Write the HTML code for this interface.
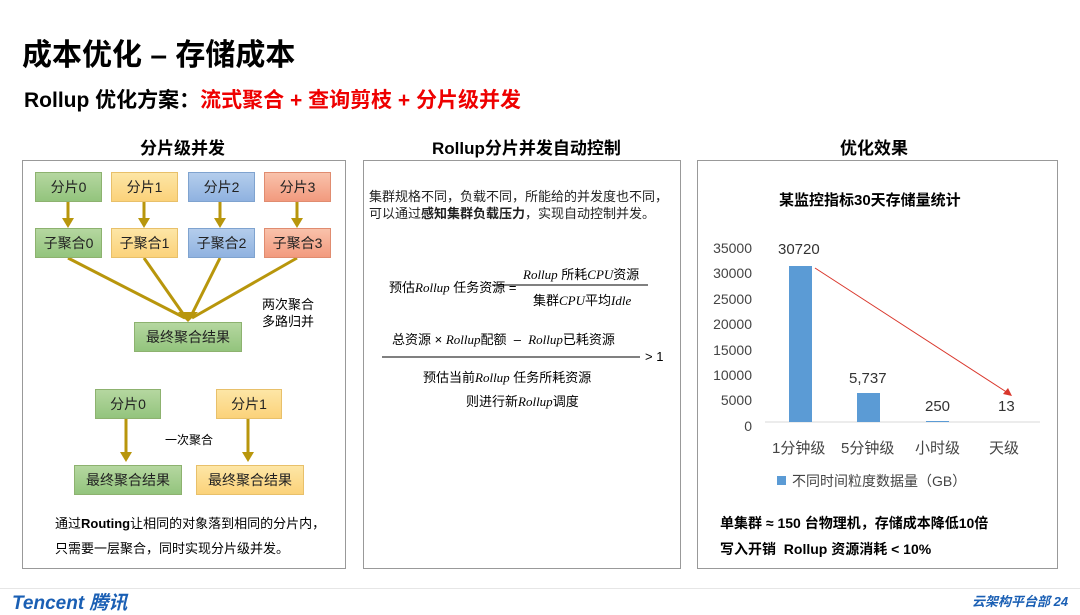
<!DOCTYPE html>
<html><head><meta charset="utf-8"><style>
*{margin:0;padding:0;box-sizing:border-box}
body{width:1080px;height:608px;background:#fff;position:relative;overflow:hidden;font-family:"Liberation Sans","Noto Sans CJK SC",sans-serif;color:#000}
.a{position:absolute;white-space:nowrap}
.panel{position:absolute;border:1px solid #999;background:#fff}
.bx{position:absolute;height:30px;border:1px solid;font-size:14px;text-align:center;line-height:28px;color:#222}
.g{background:linear-gradient(#b5d7a0,#93c47d);border-color:#8db26f}
.y{background:linear-gradient(#fde6a6,#fbd27a);border-color:#e8c06a}
.b{background:linear-gradient(#b4cdec,#8fb2e0);border-color:#7fa3cf}
.r{background:linear-gradient(#f9c2ab,#f29a7e);border-color:#e08c70}
.it{font-family:"Liberation Serif","Noto Serif CJK SC",serif;font-style:italic}
</style></head><body>
<div class="a" style="left:22px;top:30px;font-size:30px;font-weight:bold">成本优化 – 存储成本</div>
<div class="a" style="left:24px;top:84px;font-size:21px;font-weight:bold">Rollup 优化方案：<span style="color:#e00">流式聚合 + 查询剪枝 + 分片级并发</span></div>

<div class="a" style="left:140px;top:134px;font-size:17px;font-weight:bold">分片级并发</div>
<div class="a" style="left:432px;top:134px;font-size:17px;font-weight:bold">Rollup分片并发自动控制</div>
<div class="a" style="left:840px;top:134px;font-size:17px;font-weight:bold">优化效果</div>

<div class="panel" style="left:22px;top:160px;width:324px;height:409px"></div>
<div class="panel" style="left:363px;top:160px;width:318px;height:409px"></div>
<div class="panel" style="left:697px;top:160px;width:361px;height:409px"></div>

<svg class="a" style="left:0;top:0" width="1080" height="608">
<g stroke="#b8960c" stroke-width="3" fill="#b8960c">
<line x1="68" y1="200" x2="68" y2="222"/><polygon points="62,218 74,218 68,228" stroke="none"/>
<line x1="144" y1="200" x2="144" y2="222"/><polygon points="138,218 150,218 144,228" stroke="none"/>
<line x1="220" y1="200" x2="220" y2="222"/><polygon points="214,218 226,218 220,228" stroke="none"/>
<line x1="297" y1="200" x2="297" y2="222"/><polygon points="291,218 303,218 297,228" stroke="none"/>
<line x1="68" y1="258" x2="185" y2="318"/><line x1="144" y1="258" x2="186" y2="318"/>
<line x1="220" y1="258" x2="190" y2="318"/><line x1="297" y1="258" x2="192" y2="318"/>
<polygon points="178,312 198,312 188,322" stroke="none"/>
<line x1="126" y1="418" x2="126" y2="456"/><polygon points="120,452 132,452 126,462" stroke="none"/>
<line x1="248" y1="418" x2="248" y2="456"/><polygon points="242,452 254,452 248,462" stroke="none"/>
</g>
<line x1="382" y1="357" x2="640" y2="357" stroke="#000"/>
<line x1="492" y1="285" x2="648" y2="285" stroke="#000"/>
<!-- chart -->
<line x1="765" y1="422" x2="1040" y2="422" stroke="#d9d9d9"/>
<rect x="789" y="266" width="23" height="156" fill="#5b9bd5"/>
<rect x="857" y="393" width="23" height="29" fill="#5b9bd5"/>
<rect x="926" y="421" width="23" height="1" fill="#5b9bd5"/>
<line x1="815" y1="268" x2="1008" y2="393" stroke="#d9362b" stroke-width="1"/>
<polygon points="1012,396 1003,394 1008,388" fill="#d9362b"/>
<rect x="777" y="476" width="9" height="9" fill="#5b9bd5"/>
</svg>

<div class="bx g" style="left:35px;top:172px;width:67px">分片0</div>
<div class="bx y" style="left:111px;top:172px;width:67px">分片1</div>
<div class="bx b" style="left:188px;top:172px;width:67px">分片2</div>
<div class="bx r" style="left:264px;top:172px;width:67px">分片3</div>
<div class="bx g" style="left:35px;top:228px;width:67px">子聚合0</div>
<div class="bx y" style="left:111px;top:228px;width:67px">子聚合1</div>
<div class="bx b" style="left:188px;top:228px;width:67px">子聚合2</div>
<div class="bx r" style="left:264px;top:228px;width:67px">子聚合3</div>
<div class="a" style="left:262px;top:296px;font-size:13px;line-height:17px">两次聚合<br>多路归并</div>
<div class="bx g" style="left:134px;top:322px;width:108px">最终聚合结果</div>
<div class="bx g" style="left:95px;top:389px;width:66px">分片0</div>
<div class="bx y" style="left:216px;top:389px;width:66px">分片1</div>
<div class="a" style="left:165px;top:431px;font-size:12px">一次聚合</div>
<div class="bx g" style="left:74px;top:465px;width:108px">最终聚合结果</div>
<div class="bx y" style="left:196px;top:465px;width:108px">最终聚合结果</div>
<div class="a" style="left:55px;top:511px;font-size:13px;line-height:25px">通过<b>Routing</b>让相同的对象落到相同的分片内，<br>只需要一层聚合，同时实现分片级并发。</div>

<div class="a" style="left:369px;top:188px;font-size:13px;line-height:17px;color:#222">集群规格不同，负载不同，所能给的并发度也不同，<br>可以通过<b>感知集群负载压力</b>，实现自动控制并发。</div>
<div class="a" style="left:389px;top:277px;font-size:13px">预估<span class="it">Rollup</span> 任务资源 =</div>
<div class="a" style="left:523px;top:264px;font-size:13px"><span class="it">Rollup</span> 所耗<span class="it">CPU</span>资源</div>
<div class="a" style="left:533px;top:290px;font-size:13px">集群<span class="it">CPU</span>平均<span class="it">Idle</span></div>
<div class="a" style="left:392px;top:329px;font-size:13px">总资源 × <span class="it">Rollup</span>配额 &nbsp;– &nbsp;<span class="it">Rollup</span>已耗资源</div>
<div class="a" style="left:645px;top:349px;font-size:13px">&gt; 1</div>
<div class="a" style="left:423px;top:367px;font-size:13px">预估当前<span class="it">Rollup</span> 任务所耗资源</div>
<div class="a" style="left:466px;top:391px;font-size:13px">则进行新<span class="it">Rollup</span>调度</div>

<div class="a" style="left:779px;top:189px;font-size:15px;font-weight:bold">某监控指标30天存储量统计</div>
<div class="a" style="left:700px;top:236px;width:52px;text-align:right;font-size:14px;line-height:25.4px;color:#444">35000<br>30000<br>25000<br>20000<br>15000<br>10000<br>5000<br>0</div>
<div class="a" style="left:778px;top:241px;font-size:15px;color:#333">30720</div>
<div class="a" style="left:849px;top:370px;font-size:15px;color:#333">5,737</div>
<div class="a" style="left:925px;top:398px;font-size:15px;color:#333">250</div>
<div class="a" style="left:998px;top:398px;font-size:15px;color:#333">13</div>
<div class="a" style="left:772px;top:437px;font-size:15px;color:#444">1分钟级</div>
<div class="a" style="left:841px;top:437px;font-size:15px;color:#444">5分钟级</div>
<div class="a" style="left:915px;top:437px;font-size:15px;color:#444">小时级</div>
<div class="a" style="left:989px;top:437px;font-size:15px;color:#444">天级</div>
<div class="a" style="left:792px;top:471px;font-size:14px;color:#444">不同时间粒度数据量（GB）</div>
<div class="a" style="left:720px;top:510px;font-size:14px;font-weight:bold;line-height:26px">单集群 ≈ 150 台物理机，存储成本降低10倍<br>写入开销 &nbsp;Rollup 资源消耗 &lt; 10%</div>

<div class="a" style="left:0;top:588px;width:1080px;height:1px;background:#e6e6e6"></div>
<div class="a" style="left:12px;top:588px;font-size:19px;font-weight:bold;font-style:italic;color:#1a5fb4">Tencent 腾讯</div>
<div class="a" style="left:972px;top:591px;font-size:13px;font-weight:bold;font-style:italic;color:#1a5fb4">云架构平台部 24</div>
</body></html>
